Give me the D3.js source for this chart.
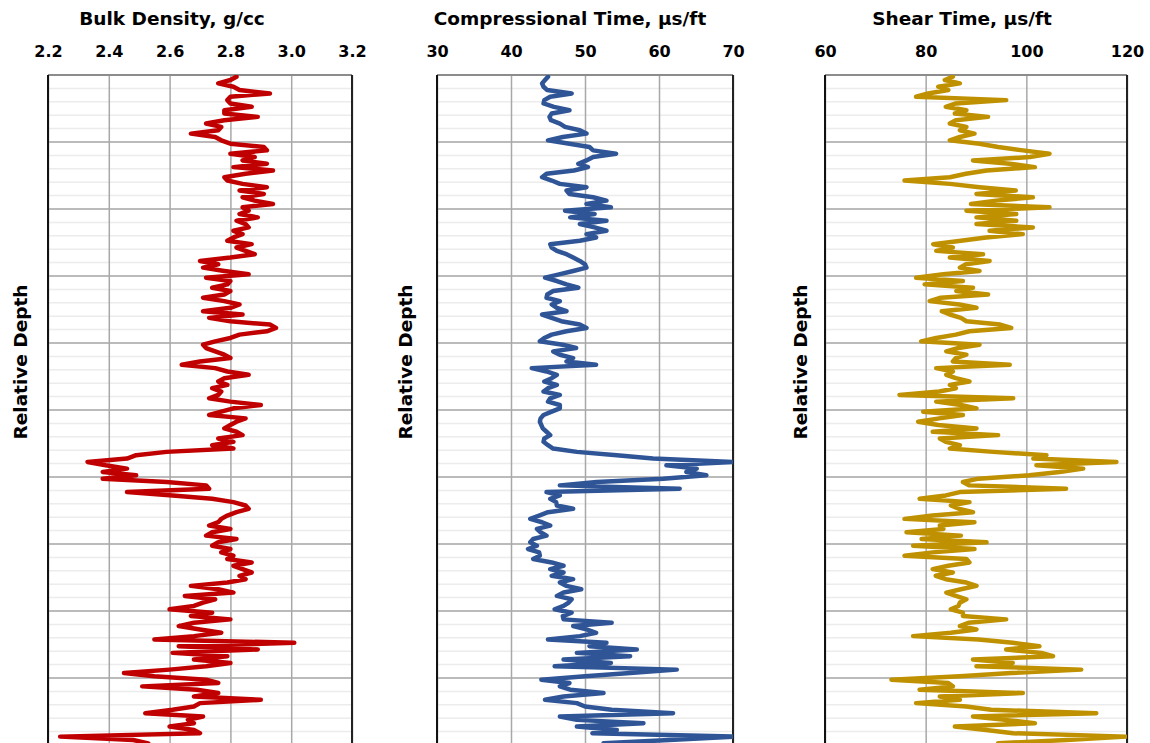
<!DOCTYPE html>
<meta charset="utf-8">
<style>
  body { margin: 0; background: #fff; }
  text { font-family: "DejaVu Sans", Verdana, sans-serif; font-weight: bold; fill: #000; }
</style>

<!-- Load d3.js -->
<script src="https://d3js.org/d3.v7.min.js"></script>

<!-- Create a div where the graph will take place -->
<div id="my_dataviz"></div>

<script>

// well log readings, one value per depth sample (top to bottom)
var bulkDensity = [
  2.82, 2.80, 2.76, 2.81, 2.83, 2.93, 2.80, 2.79, 2.80, 2.87,
  2.78, 2.78, 2.89, 2.78, 2.72, 2.77, 2.76, 2.67, 2.75, 2.77,
  2.80, 2.91, 2.92, 2.80, 2.88, 2.84, 2.92, 2.81, 2.94, 2.85,
  2.78, 2.79, 2.84, 2.92, 2.83, 2.91, 2.84, 2.88, 2.94, 2.84,
  2.86, 2.83, 2.89, 2.82, 2.85, 2.86, 2.81, 2.84, 2.81, 2.79,
  2.87, 2.82, 2.85, 2.88, 2.80, 2.70, 2.76, 2.71, 2.78, 2.86,
  2.72, 2.80, 2.79, 2.74, 2.80, 2.78, 2.71, 2.78, 2.83, 2.80,
  2.71, 2.84, 2.73, 2.80, 2.93, 2.95, 2.92, 2.83, 2.80, 2.75,
  2.71, 2.72, 2.75, 2.78, 2.80, 2.70, 2.64, 2.75, 2.79, 2.86,
  2.78, 2.76, 2.79, 2.74, 2.77, 2.76, 2.73, 2.80, 2.90, 2.81,
  2.77, 2.73, 2.85, 2.82, 2.80, 2.78, 2.82, 2.84, 2.76, 2.81,
  2.74, 2.81, 2.59, 2.49, 2.46, 2.33, 2.39, 2.46, 2.38, 2.49,
  2.38, 2.59, 2.72, 2.73, 2.46, 2.61, 2.74, 2.81, 2.85, 2.86,
  2.82, 2.79, 2.77, 2.76, 2.73, 2.80, 2.74, 2.72, 2.82, 2.76,
  2.74, 2.80, 2.77, 2.81, 2.79, 2.87, 2.81, 2.84, 2.87, 2.83,
  2.85, 2.79, 2.67, 2.76, 2.81, 2.65, 2.75, 2.71, 2.68, 2.60,
  2.74, 2.67, 2.80, 2.68, 2.63, 2.70, 2.77, 2.68, 2.55, 3.01,
  2.63, 2.89, 2.61, 2.79, 2.68, 2.80, 2.72, 2.60, 2.45, 2.55,
  2.72, 2.76, 2.51, 2.69, 2.76, 2.68, 2.90, 2.70, 2.68, 2.61,
  2.52, 2.71, 2.66, 2.68, 2.60, 2.68, 2.70, 2.24, 2.48, 2.53
];

var compTime = [
  45.0, 44.6, 44.2, 44.4, 44.9, 48.2, 45.3, 44.5, 44.4, 45.8,
  47.9, 45.5, 45.2, 45.4, 46.6, 47.3, 49.3, 50.2, 47.0, 45.0,
  47.9, 50.6, 51.1, 54.2, 51.1, 50.2, 49.1, 50.4, 48.5, 44.8,
  44.2, 45.5, 46.6, 50.2, 47.5, 47.9, 51.1, 52.9, 50.2, 53.5,
  47.3, 51.3, 48.0, 52.9, 49.3, 51.3, 52.9, 50.2, 51.5, 49.3,
  45.3, 45.5, 46.2, 47.5, 48.4, 49.3, 50.0, 50.2, 48.4, 46.5,
  44.6, 46.2, 47.5, 49.1, 45.7, 44.9, 44.8, 46.6, 45.5, 46.2,
  47.5, 44.2, 45.5, 46.8, 49.3, 50.2, 47.5, 45.5, 44.5, 43.9,
  47.0, 48.8, 45.7, 46.6, 48.4, 47.5, 51.5, 42.8, 44.8, 46.2,
  45.5, 44.5, 46.2, 45.0, 44.4, 46.6, 45.3, 45.0, 46.6, 46.6,
  45.5, 44.4, 44.0, 43.9, 44.1, 44.3, 44.8, 45.3, 44.5, 44.4,
  45.0, 45.7, 48.9, 54.3, 59.2, 70.0, 61.0, 65.1, 63.7, 66.4,
  60.6, 51.6, 46.6, 62.8, 44.8, 46.6, 45.3, 46.1, 46.2, 48.4,
  45.0, 43.8, 42.6, 44.2, 45.3, 43.5, 44.0, 44.8, 43.0, 42.6,
  43.5, 42.3, 43.8, 43.9, 43.0, 45.5, 47.1, 45.3, 47.1, 45.5,
  48.4, 46.6, 47.5, 49.5, 47.1, 46.2, 48.2, 47.8, 47.1, 45.9,
  48.2, 47.0, 47.1, 53.6, 48.4, 50.2, 51.5, 49.3, 45.0, 52.9,
  50.6, 57.0, 48.9, 56.1, 47.1, 53.5, 45.9, 62.4, 56.1, 50.0,
  44.1, 47.9, 46.6, 48.0, 52.5, 47.1, 44.6, 48.9, 50.0, 53.6,
  61.9, 46.6, 48.9, 57.9, 48.9, 54.3, 51.0, 70.0, 61.4, 52.5
];

var shearTime = [
  85.4, 83.8, 86.8, 82.5, 84.5, 80.5, 78.1, 96.0, 86.0, 84.0,
  88.1, 85.8, 92.4, 86.0, 84.8, 88.1, 86.8, 89.7, 86.8, 84.8,
  90.7, 94.4, 99.3, 104.6, 100.7, 89.4, 96.7, 101.7, 92.1, 88.0,
  84.8, 75.8, 84.8, 90.7, 97.9, 90.1, 101.3, 94.0, 89.0, 104.6,
  88.1, 98.0, 90.1, 98.0, 90.1, 101.3, 92.7, 99.3, 92.0, 87.0,
  81.5, 85.4, 82.1, 91.4, 84.8, 92.7, 88.0, 86.8, 90.7, 83.5,
  78.1, 87.4, 79.8, 89.4, 86.1, 92.4, 83.0, 80.8, 86.7, 90.1,
  83.2, 84.8, 87.0, 88.1, 94.8, 97.0, 88.7, 86.0, 82.1, 79.1,
  90.7, 86.5, 84.1, 88.1, 86.0, 85.4, 96.7, 82.1, 85.4, 84.1,
  86.0, 88.7, 84.8, 86.0, 82.7, 74.8, 97.4, 82.1, 87.0, 90.1,
  79.5, 87.4, 82.7, 78.5, 82.5, 90.1, 81.4, 94.4, 82.8, 84.0,
  86.8, 84.8, 93.4, 104.0, 101.4, 117.9, 102.0, 111.3, 106.6, 100.6,
  90.5, 87.4, 88.7, 107.9, 86.8, 84.0, 78.8, 88.7, 85.0, 86.7,
  89.4, 81.4, 75.8, 89.7, 82.8, 83.5, 76.2, 87.0, 79.2, 92.1,
  77.5, 89.7, 81.4, 75.8, 88.1, 88.7, 84.5, 81.4, 85.4, 82.0,
  84.0, 88.1, 90.1, 87.0, 84.1, 86.0, 88.1, 86.8, 86.5, 85.0,
  87.4, 87.4, 96.0, 88.5, 86.8, 90.1, 85.0, 77.5, 90.5, 97.3,
  102.6, 96.0, 103.0, 105.3, 89.4, 97.3, 90.1, 110.9, 97.0, 86.8,
  73.2, 84.5, 85.4, 78.8, 99.3, 82.8, 86.8, 78.1, 88.1, 93.0,
  113.9, 89.4, 95.7, 101.7, 85.8, 92.0, 97.4, 119.9, 108.0, 94.4
];

// titles and axis ticks of the three tracks
var titles = ["Bulk Density, g/cc", "Compressional Time, \u00b5s/ft", "Shear Time, \u00b5s/ft"];
var densityTicks = [2.2, 2.4, 2.6, 2.8, 3.0, 3.2];
var compTicks = [30, 40, 50, 60, 70];
var shearTicks = [60, 80, 100, 120];

// layout of each track
var width = 1150, height = 743;
var plotTop = 75, plotBottom = 745;
var nSamples = 200;        // samples shown down the track
var majorEvery = 20;       // samples between heavy depth lines
var minorEvery = 4;        // samples between light depth lines

var tracks = [
  { data: bulkDensity, ticks: densityTicks, fmt: d3.format(".1f"), title: titles[0],
    x0: 48, x1: 352, titleX: 172, labelX: 20, color: "#c00000" },
  { data: compTime, ticks: compTicks, fmt: d3.format("d"), title: titles[1],
    x0: 437, x1: 733, titleX: 570, labelX: 405, color: "#2f5597" },
  { data: shearTime, ticks: shearTicks, fmt: d3.format("d"), title: titles[2],
    x0: 825, x1: 1127, titleX: 962, labelX: 800, color: "#bf9000" }
];

var svg = d3.select("#my_dataviz")
  .append("svg")
    .attr("width", width)
    .attr("height", height);

// depth scale shared by all tracks
var y = d3.scaleLinear()
  .domain([0, nSamples])
  .range([plotTop, plotBottom]);

tracks.forEach(function(t, k) {

  var x = d3.scaleLinear()
    .domain([t.ticks[0], t.ticks[t.ticks.length - 1]])
    .range([t.x0, t.x1]);

  var g = svg.append("g");

  // light depth lines
  g.append("g")
    .selectAll("line")
    .data(d3.range(0, nSamples + 1, minorEvery))
    .enter()
    .append("line")
      .attr("x1", t.x0).attr("x2", t.x1)
      .attr("y1", function(d) { return y(d); })
      .attr("y2", function(d) { return y(d); })
      .attr("stroke", "#ececec")
      .attr("stroke-width", 1.5);

  // heavy depth lines
  g.append("g")
    .selectAll("line")
    .data(d3.range(majorEvery, nSamples + 1, majorEvery))
    .enter()
    .append("line")
      .attr("x1", t.x0).attr("x2", t.x1)
      .attr("y1", function(d) { return y(d); })
      .attr("y2", function(d) { return y(d); })
      .attr("stroke", "#a8a8a8")
      .attr("stroke-width", 1.5);

  // top axis with the vertical grid
  var axis = g.append("g")
    .attr("transform", "translate(0," + plotTop + ")")
    .call(d3.axisTop(x)
      .tickValues(t.ticks)
      .tickFormat(t.fmt)
      .tickSize(-(plotBottom - plotTop))
      .tickPadding(18));
  axis.select(".domain").remove();
  axis.selectAll(".tick line")
    .attr("stroke", "#a8a8a8")
    .attr("stroke-width", 1.5);
  axis.selectAll(".tick text")
    .style("font-size", "16px")
    .style("font-family", "'DejaVu Sans', Verdana, sans-serif")
    .style("font-weight", "bold")
    .attr("fill", "#000");

  // frame of the track
  g.append("line")
    .attr("x1", t.x0).attr("x2", t.x1)
    .attr("y1", plotTop).attr("y2", plotTop)
    .attr("stroke", "#8c8c8c").attr("stroke-width", 2);
  g.append("line")
    .attr("x1", t.x0).attr("x2", t.x0)
    .attr("y1", plotTop).attr("y2", plotBottom)
    .attr("stroke", "#111").attr("stroke-width", 2);
  g.append("line")
    .attr("x1", t.x1).attr("x2", t.x1)
    .attr("y1", plotTop).attr("y2", plotBottom)
    .attr("stroke", "#222").attr("stroke-width", 2);

  // log curve, clipped to the track
  svg.append("clipPath")
    .attr("id", "clip" + k)
    .append("rect")
      .attr("x", t.x0).attr("y", plotTop)
      .attr("width", t.x1 - t.x0).attr("height", plotBottom - plotTop);

  g.append("path")
    .datum(t.data)
    .attr("clip-path", "url(#clip" + k + ")")
    .attr("fill", "none")
    .attr("stroke", t.color)
    .attr("stroke-width", 4.5)
    .attr("stroke-linejoin", "round")
    .attr("stroke-linecap", "round")
    .attr("d", d3.line()
      .x(function(d) { return x(d); })
      .y(function(d, i) { return y(i + 0.5); }));

  // title
  g.append("text")
    .attr("x", t.titleX)
    .attr("y", 25)
    .attr("text-anchor", "middle")
    .style("font-size", "18.5px")
    .text(t.title);

  // y axis label
  g.append("text")
    .attr("text-anchor", "middle")
    .attr("transform", "translate(" + (t.labelX + 7) + "," + 362 + ")rotate(-90)")
    .style("font-size", "18.5px")
    .text("Relative Depth");
});

</script>
